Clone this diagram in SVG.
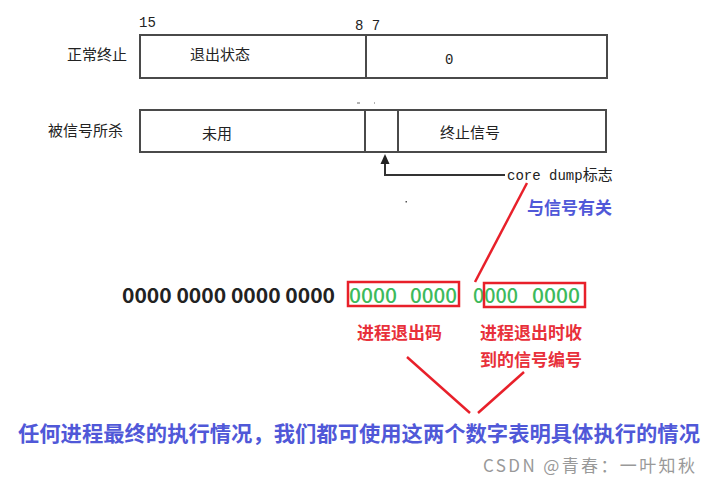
<svg xmlns="http://www.w3.org/2000/svg" width="710" height="484" viewBox="0 0 710 484">
<defs>
<style>
.box{fill:#fff;stroke:#4a4a4a;stroke-width:2}
.div{stroke:#4a4a4a;stroke-width:2}
.lbl{font-family:"Noto Sans CJK SC","Noto Sans",sans-serif;font-size:15px;fill:#222}
.num{font-family:"Liberation Mono",monospace;font-size:14px;fill:#222}
.red{stroke:#e8202a;stroke-width:2.5;fill:none}
.rtxt{font-family:"Noto Sans CJK SC",sans-serif;font-size:17px;font-weight:bold;fill:#e8303a}
.btxt{font-family:"Noto Sans CJK SC",sans-serif;font-weight:bold;fill:#5058d8}
.grn{font-family:"Noto Sans CJK SC","Noto Sans",sans-serif;font-size:20px;font-weight:500;fill:#3dba5c}
</style>
</defs>
<rect width="710" height="484" fill="#fff"/>

<g id="normal">
<text class="num" x="139" y="27">15</text>
<text class="num" x="355" y="30">8 7</text>
<text class="lbl" x="67" y="60">正常终止</text>
<rect class="box" x="140" y="35" width="467" height="43"/>
<line class="div" x1="366" y1="35" x2="366" y2="78"/>
<text class="lbl" x="190" y="60">退出状态</text>
<text class="num" x="445" y="64">0</text>
</g>

<g id="killed">
<text class="lbl" x="48" y="136">被信号所杀</text>
<rect class="box" x="140" y="110" width="466" height="42"/>
<line class="div" x1="365" y1="110" x2="365" y2="152"/>
<line class="div" x1="398" y1="110" x2="398" y2="152"/>
<text class="lbl" x="202" y="139">未用</text>
<text class="lbl" x="440" y="138">终止信号</text>
<line x1="357" y1="103" x2="360" y2="103" stroke="#666" stroke-width="1"/>
<rect x="374" y="102.5" width="1" height="1" fill="#666"/>
<rect x="405.5" y="201" width="1.5" height="1.5" fill="#555"/>
</g>

<g id="coredump">
<text x="507" y="180" font-family="Liberation Mono,monospace" font-size="14" fill="#222">core dump<tspan font-family="Noto Sans CJK SC,sans-serif" font-size="15">标志</tspan></text>
</g>

<g id="bits">
<text x="122" y="303" font-family="Noto Sans CJK SC,Noto Sans,sans-serif" font-size="20" font-weight="bold" fill="#222" textLength="213" lengthAdjust="spacingAndGlyphs">0000 0000 0000 0000</text>
<text class="grn" x="349" y="303" textLength="48" lengthAdjust="spacingAndGlyphs">0000</text>
<text class="grn" x="410" y="303" textLength="47" lengthAdjust="spacingAndGlyphs">0000</text>
<text class="grn" x="473" y="303" textLength="45" lengthAdjust="spacingAndGlyphs">0000</text>
<text class="grn" x="532" y="303" textLength="48" lengthAdjust="spacingAndGlyphs">0000</text>
<rect class="red" x="348" y="282" width="111" height="24"/>
<rect class="red" x="484" y="283" width="101" height="24"/>
</g>

<g id="labels">
<text class="btxt" x="527" y="214" font-size="17">与信号有关</text>
<text class="rtxt" x="357" y="339">进程退出码</text>
<text class="rtxt" x="480" y="339">进程退出时收</text>
<text class="rtxt" x="480" y="366">到的信号编号</text>
<text class="btxt" x="18" y="441" font-size="21" textLength="682" lengthAdjust="spacingAndGlyphs">任何进程最终的执行情况，我们都可使用这两个数字表明具体执行的情况</text>
<text x="483" y="472" font-family="Noto Sans CJK SC,sans-serif" font-size="17" fill="#999" textLength="212" lengthAdjust="spacing">CSDN @青春：一叶知秋</text>
</g>

<g id="connectors">
<path d="M505,175 H385 V163" stroke="#333" stroke-width="2" fill="none"/>
<polygon points="385,154 380.5,164 389.5,164" fill="#222"/>
<line class="red" x1="475" y1="282" x2="527" y2="183"/>
<line class="red" x1="407" y1="357" x2="470" y2="413"/>
<line class="red" x1="478" y1="413" x2="524" y2="372"/>
</g>
</svg>
